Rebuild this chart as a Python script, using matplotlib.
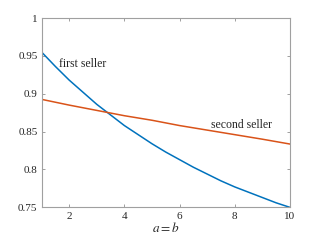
import matplotlib
matplotlib.use("Agg")
import matplotlib.pyplot as plt

x_first = [1, 1.5, 2, 2.5, 3, 3.5, 4, 4.5, 5, 5.5, 6, 6.5, 7, 7.5, 8, 8.5, 9, 9.5, 10]
first_seller = [0.955, 0.936, 0.918, 0.902, 0.886, 0.872, 0.858, 0.846, 0.834, 0.823,
                0.813, 0.803, 0.794, 0.785, 0.777, 0.770, 0.763, 0.756, 0.750]
x_second = [1, 2, 3, 4, 5, 6, 7, 8, 9, 10]
second_seller = [0.8926, 0.885, 0.878, 0.871, 0.865, 0.858, 0.852, 0.846, 0.840, 0.8336]
x_ticks = [2, 4, 6, 8, 10]
y_ticks = [0.75, 0.8, 0.85, 0.9, 0.95, 1]
y_tick_labels = ["0.75", "0.8", "0.85", "0.9", "0.95", "1"]

plt.rcParams['font.family'] = ['Liberation Serif', 'DejaVu Serif']
plt.rcParams['mathtext.fontset'] = 'stix'

fig = plt.figure(figsize=(3.2, 2.4), dpi=100)
ax = fig.add_axes([0.13, 0.136, 0.776, 0.789])
ax.plot(x_first, first_seller, color='#0072BD', lw=1.1)
ax.plot(x_second, second_seller, color='#D95319', lw=1.1)
ax.set_xlim(1, 10)
ax.set_ylim(0.75, 1)
ax.set_xticks(x_ticks)
ax.set_yticks(y_ticks)
ax.set_yticklabels(y_tick_labels)
gray = '#262626'
for s in ax.spines.values():
    s.set_color('#a0a0a0')
    s.set_linewidth(0.8)
ax.tick_params(direction='in', top=True, right=True, length=2.5, width=0.6,
               color='#909090', labelsize=8, labelcolor=gray, pad=3)
ax.text(1.62, 0.939, 'first seller', fontsize=8.5, color=gray, va='center', ha='left')
ax.text(7.15, 0.859, 'second seller', fontsize=8.5, color=gray, va='center', ha='left')
ax.set_xlabel('$a = b$', fontsize=9.5, color=gray, labelpad=0)
fig.savefig('out.png', dpi=100)
